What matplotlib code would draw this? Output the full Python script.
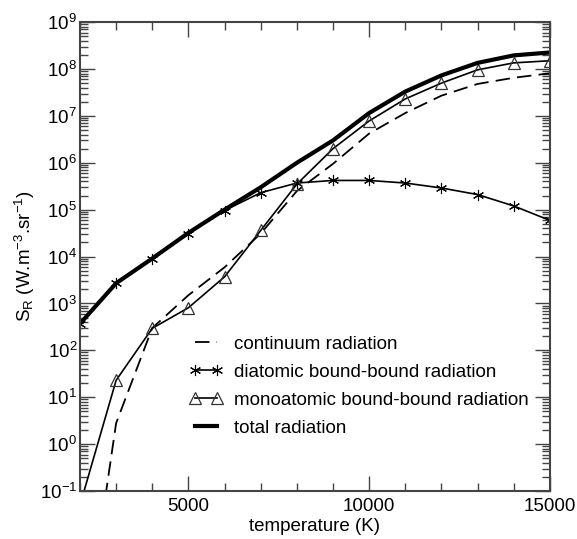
import matplotlib
matplotlib.use("Agg")
import matplotlib.pyplot as plt
import numpy as np
from matplotlib.lines import Line2D
from matplotlib.legend_handler import HandlerLine2D
from matplotlib.ticker import LogLocator, MultipleLocator, FixedLocator, NullFormatter

plt.rcParams['font.family'] = ['Liberation Sans', 'DejaVu Sans']
plt.rcParams['mathtext.default'] = 'regular'
plt.rcParams['axes.unicode_minus'] = False

# temperature grid (K)
temperature = [2000, 3000, 4000, 5000, 6000, 7000, 8000, 9000,
               10000, 11000, 12000, 13000, 14000, 15000]

# radiation source terms (W.m-3.sr-1)
continuum = [1.5e-5, 2.8, 300, 1500, 5900, 3.1e4, 2.5e5, 9.5e5,
             4.2e6, 1.15e7, 2.7e7, 4.8e7, 6.5e7, 8.1e7]
diatomic = [370, 2700, 8800, 3.1e4, 9.6e4, 2.3e5, 3.7e5, 4.2e5,
            4.2e5, 3.7e5, 2.9e5, 2.1e5, 1.2e5, 5.9e4]
monoatomic = [0.05, 23, 295, 810, 3700, 3.6e4, 3.5e5, 2.0e6,
              7.8e6, 2.3e7, 5.0e7, 9.6e7, 1.35e8, 1.5e8]
total = [370, 2700, 9100, 3.2e4, 1.0e5, 3.0e5, 1.0e6, 3.0e6,
         1.15e7, 3.3e7, 7.3e7, 1.35e8, 1.95e8, 2.25e8]

labels = ["continuum radiation",
          "diatomic bound-bound radiation",
          "monoatomic bound-bound radiation",
          "total radiation"]
xticks = [5000, 10000, 15000]

fig = plt.figure(figsize=(5.77, 5.39), dpi=100)
ax = fig.add_axes([0.1386, 0.089, 0.8144, 0.870])

ax.plot(temperature, continuum, color='black', lw=1.3, ls=(0, (8, 4)),
        label=labels[0])
ax.plot(temperature, diatomic, color='black', lw=1.2, marker=(6, 2, 0),
        ms=8, mew=0.8, label=labels[1])
ax.plot(temperature, monoatomic, color='black', lw=1.2, marker='^',
        ms=8, mfc='none', mec='#333333', mew=0.9, label=labels[2])
ax.plot(temperature, total, color='black', lw=3.0, label=labels[3])

ax.set_yscale('log')
ax.set_xlim(2000, 15000)
ax.set_ylim(1e-1, 1e9)

ax.xaxis.set_major_locator(FixedLocator(xticks))
ax.xaxis.set_minor_locator(MultipleLocator(1000))
ax.yaxis.set_major_locator(LogLocator(base=10, numticks=20))
ax.yaxis.set_minor_locator(LogLocator(base=10, subs=np.arange(2, 10), numticks=20))
ax.yaxis.set_minor_formatter(NullFormatter())
ax.xaxis.get_offset_text().set_visible(False)
ax.yaxis.get_offset_text().set_visible(False)

ax.tick_params(which='both', direction='in', top=True, right=True,
               color='#444444', labelsize=13.5, width=1.0)
ax.tick_params(which='major', length=11)
ax.tick_params(which='minor', length=6)
ax.tick_params(axis='x', which='major', pad=5)
ax.tick_params(axis='y', which='major', pad=2)

for sp in ax.spines.values():
    sp.set_color('#444444')
    sp.set_linewidth(1.5)

ax.set_xlabel("temperature (K)", fontsize=13.5, labelpad=2)
ax.set_ylabel(r"$S_R$ (W.m$^{-3}$.sr$^{-1}$)", fontsize=13.5, labelpad=2)

ax.legend(loc='center left', bbox_to_anchor=(0.24, 0.223), frameon=False,
          fontsize=13.5, handlelength=1.4, handletextpad=0.8,
          labelspacing=0.58, borderpad=0, borderaxespad=0, numpoints=2,
          handler_map={Line2D: HandlerLine2D(marker_pad=0.12, numpoints=2)})

fig.savefig("out.png", dpi=100)
